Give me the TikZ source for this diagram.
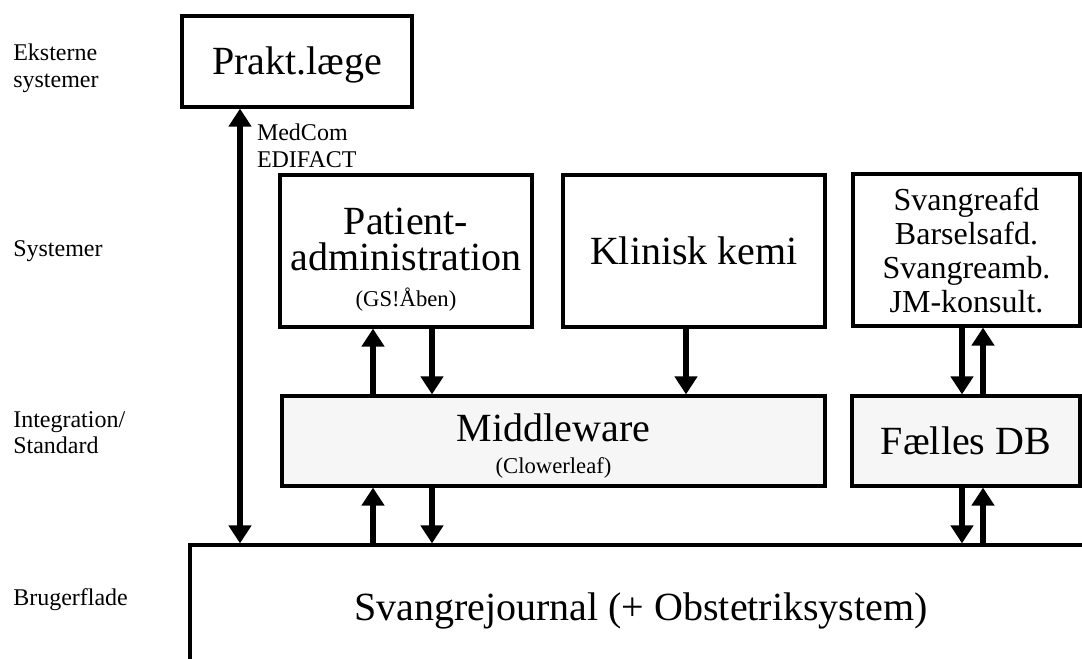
\documentclass[tikz,border=0pt]{standalone}
\usepackage{fontspec}
\setmainfont{Liberation Serif}
\usetikzlibrary{arrows.meta}
\definecolor{mwgray}{HTML}{F6F6F6}

\begin{document}
\begin{tikzpicture}[x=0.75pt, y=-0.75pt,
    every node/.style={align=center, inner sep=0pt},
    box/.style={draw, line width=2.4pt, font=\fontsize{30}{27}\selectfont},
    oneline/.style={text height=26.7pt, text depth=6.6pt},
    grey/.style={fill=mwgray},
    lbl/.style={font=\fontsize{18}{20}\selectfont, align=left, anchor=north west},
    arr/.style={line width=4.5pt, -{Triangle[length=13.5pt, width=16.5pt]}}]
  \useasboundingbox (0,0) rectangle (1082,658);
  \clip (0,0) rectangle (1082,658);
  % layer labels
  \node[lbl] (ext) at (13,44) {Eksterne\\systemer};
  \node[lbl] (sys) at (13,240) {Systemer};
  \node[lbl] (integ) at (13,411) {Integration/\\Standard};
  \node[lbl] (bruger) at (13,588) {Brugerflade};
  % boxes
  \node[box, oneline, minimum width=172.5pt, minimum height=68.25pt] (praktlaege) at (297,61.5) {Prakt.læge};
  \node[box, minimum width=189pt, minimum height=114pt] (patadm) at (406,251)
    {\rule{0pt}{32.5pt}Patient-\\administration\\{\fontsize{17}{20}\selectfont (GS!Åben)}};
  \node[box, oneline, minimum width=196.5pt, minimum height=114pt] (klinkemi) at (694,251) {Klinisk kemi};
  \node[box, font=\fontsize{24}{25.5}\selectfont, minimum width=170.25pt, minimum height=114pt] (svangre) at (966.5,250)
    {Svangreafd\\Barselsafd.\\Svangreamb.\\JM-konsult.};
  \node[box, grey, minimum width=407.25pt, minimum height=67.5pt] (middleware) at (553.5,441)
    {\rule{0pt}{28.5pt}Middleware\\[-3pt]{\fontsize{17}{20}\selectfont (Clowerleaf)}};
  \node[box, grey, oneline, minimum width=171pt, minimum height=67.5pt] (faelles) at (966,441) {Fælles DB};
  \node[box, oneline, minimum width=676.5pt, minimum height=93.75pt] (journal) at (641,607.5)
    {Svangrejournal (+ Obstetriksystem)};
  % arrow columns
  \coordinate (c0) at (240,0);
  \coordinate (c1) at (373,0);
  \coordinate (c2) at (432,0);
  \coordinate (c3) at (686,0);
  \coordinate (c4) at (962,0);
  \coordinate (c5) at (983,0);
  \draw[arr, {Triangle[length=13.5pt, width=16.5pt]}-{Triangle[length=13.5pt, width=16.5pt]}]
    (journal.north -| c0) -- (praktlaege.south -| c0)
    node[lbl, pos=1, xshift=10.5pt, yshift=-9.5pt] (medcom) {MedCom\\EDIFACT};
  \draw[arr] (middleware.north -| c1) -- (patadm.south -| c1);
  \draw[arr] (patadm.south -| c2) -- (middleware.north -| c2);
  \draw[arr] (klinkemi.south -| c3) -- (middleware.north -| c3);
  \draw[arr] (svangre.south -| c4) -- (faelles.north -| c4);
  \draw[arr] (faelles.north -| c5) -- (svangre.south -| c5);
  \draw[arr] (journal.north -| c1) -- (middleware.south -| c1);
  \draw[arr] (middleware.south -| c2) -- (journal.north -| c2);
  \draw[arr] (faelles.south -| c4) -- (journal.north -| c4);
  \draw[arr] (journal.north -| c5) -- (faelles.south -| c5);
\end{tikzpicture}
\end{document}
